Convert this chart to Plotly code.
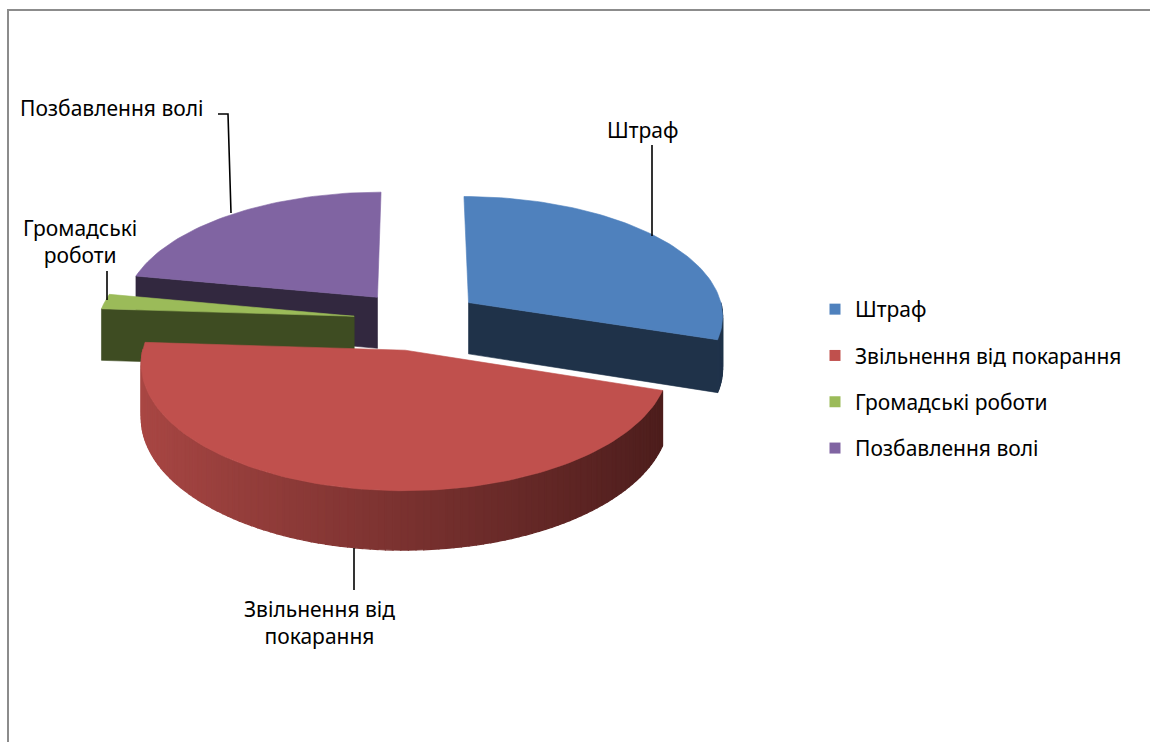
import numpy as np
import plotly.graph_objects as go

# ---- data ----
categories = ["Штраф", "Звільнення від покарання", "Громадські роботи", "Позбавлення волі"]
values = [30, 46, 2, 22]
top_colors = ["#4f81bd", "#c0504d", "#9bbb59", "#8064a2"]
face_colors = ["#1f3249", "#5a2321", "#3e4c22", "#32283f"]
wall_light = ["#3a5a86", "#aa4744", "#5b6e33", "#4d3c62"]
wall_dark = ["#1f3249", "#4a1c1b", "#3e4c22", "#32283f"]

# ---- 3D pie geometry (pixel-space axes) ----
CX, CY, RX, RY, K, EXPLODE, DEPTH = 417.5, 320.0, 256.0, 120.0, 0.1, 0.25, 52.0
W, H = 1150, 742


def proj(X, Y, h=0.0):
    s = 1.0 / (1.0 + K * Y)
    return CX + RX * X * s, CY - RY * Y * s + h * s


def hex2rgb(h):
    h = h.lstrip("#")
    return np.array([int(h[i:i + 2], 16) for i in (0, 2, 4)], dtype=float)


def mix(c1, c2, t):
    c = hex2rgb(c1) * (1 - t) + hex2rgb(c2) * t
    return "rgb(%d,%d,%d)" % tuple(np.round(c).astype(int))


total = float(sum(values))
slices = []
start = 90.0
for i, v in enumerate(values):
    span = 360.0 * v / total
    a, b = start - span, start
    start = a
    mid = np.radians((a + b) / 2)
    ox, oy = EXPLODE * np.cos(mid), EXPLODE * np.sin(mid)
    slices.append(dict(i=i, a=a, b=b, ox=ox, oy=oy))

fig = go.Figure()


def poly(xs, ys, color, lw=0.6):
    fig.add_trace(go.Scatter(
        x=list(xs) + [xs[0]], y=list(ys) + [ys[0]], mode="lines", fill="toself",
        fillcolor=color, line=dict(color=color, width=lw),
        hoverinfo="skip", showlegend=False))


for sl in sorted(slices, key=lambda d: -d["oy"]):
    i, a, b, ox, oy = sl["i"], sl["a"], sl["b"], sl["ox"], sl["oy"]

    # radial faces
    for ang, normal in ((a, a - 90), (b, b + 90)):
        if np.sin(np.radians(normal)) < -1e-6:
            t = np.radians(ang)
            rx_, ry_ = ox + np.cos(t), oy + np.sin(t)
            p1 = proj(ox, oy, 0)
            p2 = proj(rx_, ry_, 0)
            p3 = proj(rx_, ry_, DEPTH)
            p4 = proj(ox, oy, DEPTH)
            poly([p1[0], p2[0], p3[0], p4[0]], [p1[1], p2[1], p3[1], p4[1]], face_colors[i])

    # curved outer wall (front-facing part), shaded by angle
    step = 1.5
    th = a
    while th < b - 1e-9:
        th2 = min(th + step, b)
        m = np.radians((th + th2) / 2)
        if np.sin(m) < 0:
            angs = np.radians(np.linspace(th, th2, 3))
            topx, topy, botx, boty = [], [], [], []
            for t in angs:
                X, Y = ox + np.cos(t), oy + np.sin(t)
                px, py = proj(X, Y, 0)
                qx, qy = proj(X, Y, DEPTH)
                topx.append(px); topy.append(py); botx.append(qx); boty.append(qy)
            tt = (np.cos(m) + 1) / 2  # 0 = left (light), 1 = right (dark)
            poly(topx + botx[::-1], topy + boty[::-1], mix(wall_light[i], wall_dark[i], tt), lw=1.2)
        th = th2

    # top face
    n = max(4, int((b - a) / 1.5))
    angs = np.radians(np.linspace(b, a, n))
    xs, ys = [proj(ox, oy)[0]], [proj(ox, oy)[1]]
    for t in angs:
        px, py = proj(ox + np.cos(t), oy + np.sin(t))
        xs.append(px); ys.append(py)
    poly(xs, ys, top_colors[i])

# legend entries
for i, cat in enumerate(categories):
    fig.add_trace(go.Scatter(
        x=[None], y=[None], mode="markers", name=cat, legendgroup=cat,
        marker=dict(symbol="square", size=11, color=top_colors[i]),
        hoverinfo="skip", showlegend=True))

FONT = "Noto Sans"
FS = 21

annotations = [
    dict(x=642, y=130, text="Штраф"),
    dict(x=112, y=108, text="Позбавлення волі"),
    dict(x=80, y=241, text="Громадські<br>роботи"),
    dict(x=319, y=622, text="Звільнення від<br>покарання"),
]
for an in annotations:
    an.update(xref="x", yref="y", showarrow=False, xanchor="center", yanchor="middle",
              font=dict(family=FONT, size=FS, color="#000000"))

leaders = [
    [(652, 145), (652, 236)],
    [(218, 114), (228, 114), (231, 213)],
    [(107, 271), (107, 300)],
    [(354, 548), (354, 590)],
]
shapes = []
for pts in leaders:
    path = "M " + " L ".join("%g,%g" % p for p in pts)
    shapes.append(dict(type="path", path=path, xref="x", yref="y",
                       line=dict(color="#000000", width=1.6)))
# outer frame
shapes.append(dict(type="rect", x0=8, y0=10, x1=1170, y1=770, xref="x", yref="y",
                   line=dict(color="#8c8c8c", width=2), layer="below"))

fig.update_layout(
    width=W, height=H,
    margin=dict(l=0, r=0, t=0, b=0),
    paper_bgcolor="white", plot_bgcolor="white",
    xaxis=dict(range=[0, W], visible=False, fixedrange=True),
    yaxis=dict(range=[H, 0], visible=False, fixedrange=True),
    showlegend=True,
    legend=dict(x=815 / W, y=1 - 289 / H, xanchor="left", yanchor="top",
                font=dict(family=FONT, size=FS, color="#000000"),
                tracegroupgap=16, bgcolor="rgba(0,0,0,0)", itemclick=False,
                itemdoubleclick=False),
    annotations=annotations,
    shapes=shapes,
    hovermode=False,
)

fig.write_html("out.html",
               config={"displayModeBar": False, "staticPlot": True},
               post_script="document.body.style.margin='0';document.body.style.overflow='hidden';")
